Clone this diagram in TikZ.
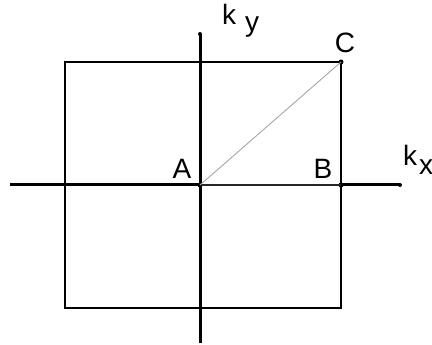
\documentclass[tikz,border=0pt]{standalone}
\usepackage{fontspec}
\setmainfont{Liberation Sans}
\begin{document}
\begin{tikzpicture}[x=1pt,y=1pt,
    axis/.style={line width=3pt},
    edge/.style={line width=2.2pt},
    diag/.style={line width=0.9pt, gray!70},
    dot/.style={circle, fill, inner sep=0pt, minimum size=5pt},
    lbl/.style={font=\fontsize{28}{28}\selectfont, inner sep=0pt}]
        \useasboundingbox (0,0) rectangle (432,345);
        % axes
        \coordinate (xl) at (10,160);
        \node[dot, minimum size=4pt] (xr) at (400,160) {};
        \coordinate (yb) at (200,2);
        \node[dot, minimum size=4pt] (yt) at (200,311) {};
        % corners of the zone
        \node[dot] (A) at (200,160) {};
        \node[dot] (B) at (341,160) {};
        \node[dot] (C) at (341,283) {};
        \coordinate (ul) at (65,283);
        \coordinate (ll) at (65,37);
        \coordinate (lr) at (341,37);
        \draw[edge] (ul) -- (C.center) -- (B.center) -- (lr) -- (ll) -- cycle;
        \draw[axis] (xl) -- (A.center);
        \draw[axis, black!85, line width=2.2pt] (A.center) -- (B.center);
        \draw[axis] (B.center) -- (xr.center);
        \draw[axis] (yb) -- (yt.center);
        \draw[diag] (A.center) -- (C.center);
        % labels
        \node[lbl] (la) at (182,176) {A};
        \node[lbl] (lb) at (323,176) {B};
        \node[lbl] (lc) at (345,302) {C};
        \node[lbl] (kyk) at (229,331) {k};
        \node[lbl] (kyy) at (252,318) {y};
        \node[lbl] (kxk) at (410,190) {k};
        \node[lbl] (kxx) at (426,178) {x};
    \end{tikzpicture}
\end{document}
